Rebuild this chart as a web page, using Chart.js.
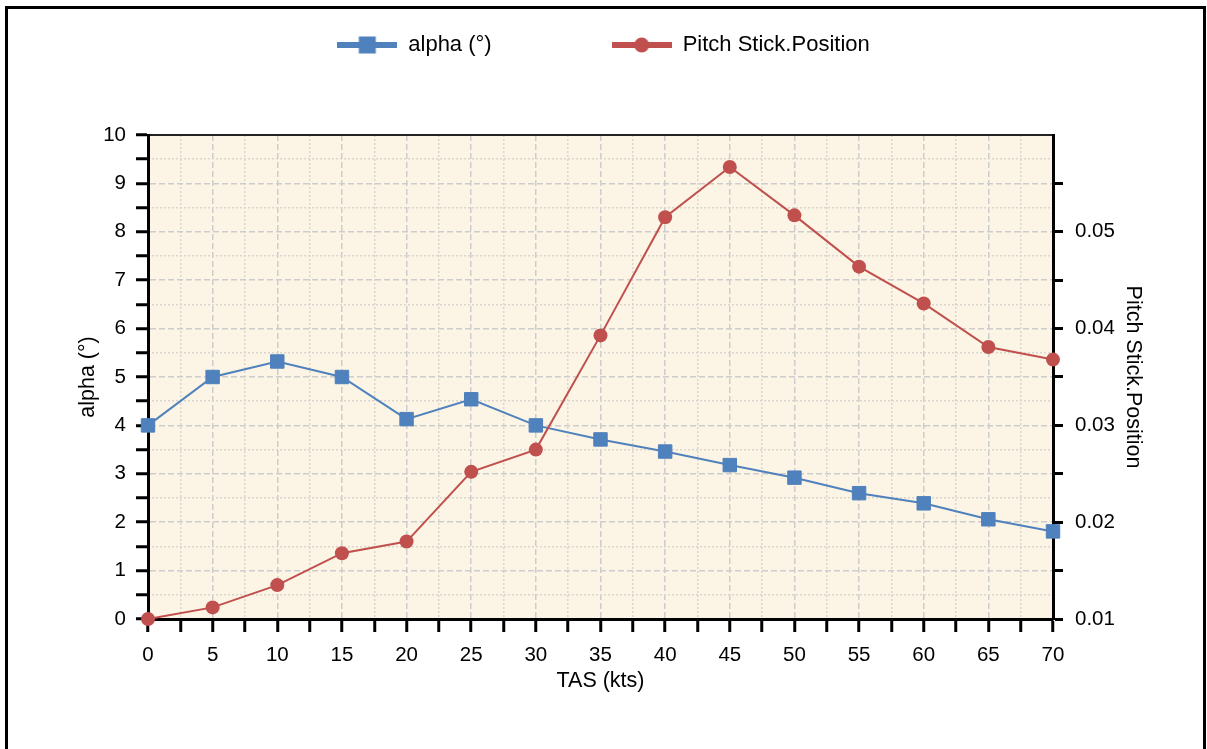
<!DOCTYPE html>
<html>
<head>
<meta charset="utf-8">
<script src="https://cdn.jsdelivr.net/npm/chart.js@4.4.1/dist/chart.umd.min.js"></script>
<style>
html,body{margin:0;padding:0;background:#fff;}
#wrap{position:relative;width:1207px;height:749px;overflow:hidden;}
#c{position:absolute;left:0;top:0;}
#frame{position:absolute;left:5px;top:6px;width:1201px;height:800px;border:3px solid #000;box-sizing:border-box;pointer-events:none;}
</style>
</head>
<body>
<div id="wrap"><canvas id="c" width="1207" height="749"></canvas><div id="frame"></div></div>
<script>
// ---- data ----
const tas = [0, 5, 10, 15, 20, 25, 30, 35, 40, 45, 50, 55, 60, 65, 70];
const alpha = [4.0, 5.0, 5.32, 5.0, 4.13, 4.54, 4.0, 3.71, 3.46, 3.18, 2.92, 2.60, 2.39, 2.06, 1.81];
const pitchStick = [0.0100, 0.0112, 0.0135, 0.0168, 0.0180, 0.0252, 0.0275, 0.0393, 0.0515, 0.0567, 0.0517, 0.0464, 0.0426, 0.0381, 0.0368];

// ---- tick labels ----
const xMajorTicks = [0, 5, 10, 15, 20, 25, 30, 35, 40, 45, 50, 55, 60, 65, 70];
const xMinorTicks = [2.5, 7.5, 12.5, 17.5, 22.5, 27.5, 32.5, 37.5, 42.5, 47.5, 52.5, 57.5, 62.5, 67.5];
const yMajorTicks = [0, 1, 2, 3, 4, 5, 6, 7, 8, 9, 10];
const yMinorTicks = [0.5, 1.5, 2.5, 3.5, 4.5, 5.5, 6.5, 7.5, 8.5, 9.5];
const pitchTicks = [0.01, 0.015, 0.02, 0.025, 0.03, 0.035, 0.04, 0.045, 0.05, 0.055];
const pitchLabels = ['0.01', '', '0.02', '', '0.03', '', '0.04', '', '0.05', ''];

const seriesNames = ['alpha (°)', 'Pitch Stick.Position'];
const axisTitles = {x: 'TAS (kts)', y: 'alpha (°)', y1: 'Pitch Stick.Position'};

const BLUE = '#4F81BD';
const RED = '#C0504D';
const FONT = "'Liberation Sans', Arial, sans-serif";
Chart.defaults.font.family = FONT;
Chart.defaults.color = '#000';

function legendIcon(color, shape) {
  const c = document.createElement('canvas');
  c.width = 60; c.height = 20;
  const g = c.getContext('2d');
  g.fillStyle = color;
  g.fillRect(0, 7, 60, 6);
  if (shape === 'rect') {
    g.fillRect(21.5, 1.5, 17, 17);
  } else {
    g.beginPath(); g.arc(30, 10, 7.5, 0, Math.PI * 2); g.fill();
  }
  return c;
}
const icons = [legendIcon(BLUE, 'rect'), legendIcon(RED, 'circle')];

const toTicks = arr => arr.slice().sort((a, b) => a - b).map(v => ({value: v}));
const isIn = (arr, v) => arr.some(a => Math.abs(a - v) < 1e-9);

const plotBg = {
  id: 'plotBg',
  beforeDraw(chart) {
    const {ctx, chartArea: a} = chart;
    ctx.save();
    ctx.fillStyle = '#FCF4E4';
    ctx.fillRect(a.left, a.top, a.right - a.left, a.bottom - a.top);
    ctx.restore();
  }
};

new Chart(document.getElementById('c'), {
  type: 'line',
  data: {
    datasets: [
      {
        label: seriesNames[0],
        data: tas.map((t, i) => ({x: t, y: alpha[i]})),
        xAxisID: 'x', yAxisID: 'y',
        borderColor: BLUE, backgroundColor: BLUE,
        borderWidth: 2, pointStyle: 'rect', pointRadius: 9.5,
        pointBorderWidth: 1, pointBorderColor: BLUE, pointBackgroundColor: BLUE,
        tension: 0, clip: false, order: 2
      },
      {
        label: seriesNames[1],
        data: tas.map((t, i) => ({x: t, y: pitchStick[i]})),
        xAxisID: 'x', yAxisID: 'y1',
        borderColor: RED, backgroundColor: RED,
        borderWidth: 2, pointStyle: 'circle', pointRadius: 7,
        pointBorderWidth: 0, pointBackgroundColor: RED,
        tension: 0, clip: false, order: 1
      }
    ]
  },
  options: {
    responsive: false,
    animation: false,
    devicePixelRatio: 1,
    layout: {padding: {top: -86, left: 0, right: 0, bottom: 0}},
    plugins: {
      tooltip: {enabled: false},
      legend: {
        position: 'top',
        align: 'center',
        labels: {
          usePointStyle: true,
          pointStyleWidth: 60,
          padding: 120,
          color: '#000',
          font: {size: 22, family: FONT},
          generateLabels: () => seriesNames.map((n, i) => ({
            text: n, pointStyle: icons[i], fillStyle: i ? RED : BLUE,
            strokeStyle: 'transparent', lineWidth: 0, hidden: false, datasetIndex: i, fontColor: '#000'
          }))
        }
      }
    },
    scales: {
      x: {
        type: 'linear', position: 'bottom', min: 0, max: 70,
        afterBuildTicks: s => { s.ticks = toTicks(xMajorTicks.concat(xMinorTicks)); },
        afterFit: s => { s.height = 130; },
        ticks: {
          autoSkip: false, maxRotation: 0, padding: 11,
          font: {size: 20.5}, color: '#000',
          callback: v => isIn(xMajorTicks, v) ? String(v) : ''
        },
        grid: {
          color: c => (c.tick && isIn(xMajorTicks, c.tick.value)) ? '#CDCDCD' : 'transparent',
          lineWidth: 1.5, tickColor: '#000', tickLength: 13, tickWidth: 3
        },
        border: {display: true, color: '#000', width: 3, dash: [6, 3]},
        title: {display: true, text: axisTitles.x, font: {size: 21.5}, color: '#000', padding: {top: 0, bottom: 55}}
      },
      x2: {
        type: 'linear', position: 'bottom', min: 0, max: 70, display: true,
        afterBuildTicks: s => { s.ticks = toTicks(xMinorTicks); },
        ticks: {display: false},
        grid: {display: true, drawTicks: false, color: '#D9D6D0', lineWidth: 1.5},
        border: {display: false, dash: [2, 2]}
      },
      x3: {
        type: 'linear', position: 'top', min: 0, max: 70, display: true,
        afterFit: s => { s.height = 69; },
        ticks: {display: false},
        grid: {display: false},
        border: {display: true, color: '#222', width: 2}
      },
      y: {
        type: 'linear', position: 'left', min: 0, max: 10,
        afterBuildTicks: s => { s.ticks = toTicks(yMajorTicks.concat(yMinorTicks)); },
        afterFit: s => { s.width = 148; },
        ticks: {
          autoSkip: false, padding: 10, font: {size: 20.5}, color: '#000',
          callback: v => isIn(yMajorTicks, v) ? String(v) : ''
        },
        grid: {
          color: c => (c.tick && isIn(yMajorTicks, c.tick.value)) ? '#CDCDCD' : 'transparent',
          lineWidth: 1.5, tickColor: '#000', tickLength: 12, tickWidth: 3
        },
        border: {display: true, color: '#000', width: 3, dash: [6, 3]},
        title: {display: true, text: axisTitles.y, font: {size: 21.5}, color: '#000', padding: {top: 75, bottom: 0}}
      },
      y2: {
        type: 'linear', position: 'left', min: 0, max: 10, display: true,
        afterBuildTicks: s => { s.ticks = toTicks(yMinorTicks); },
        ticks: {display: false},
        grid: {display: true, drawTicks: false, color: '#D9D6D0', lineWidth: 1.5},
        border: {display: false, dash: [2, 2]}
      },
      y1: {
        type: 'linear', position: 'right', min: 0.01, max: 0.06,
        afterBuildTicks: s => { s.ticks = toTicks(pitchTicks); },
        afterFit: s => { s.width = 154; },
        ticks: {
          autoSkip: false, padding: 12, font: {size: 20.5}, color: '#000',
          callback: (v, i) => pitchLabels[i]
        },
        grid: {drawOnChartArea: false, tickColor: '#000', tickLength: 10, tickWidth: 3},
        border: {display: true, color: '#000', width: 3},
        title: {display: true, text: axisTitles.y1, font: {size: 21.5}, color: '#000', padding: {top: 61, bottom: 0}}
      }
    }
  },
  plugins: [plotBg]
});
</script>
</body>
</html>
